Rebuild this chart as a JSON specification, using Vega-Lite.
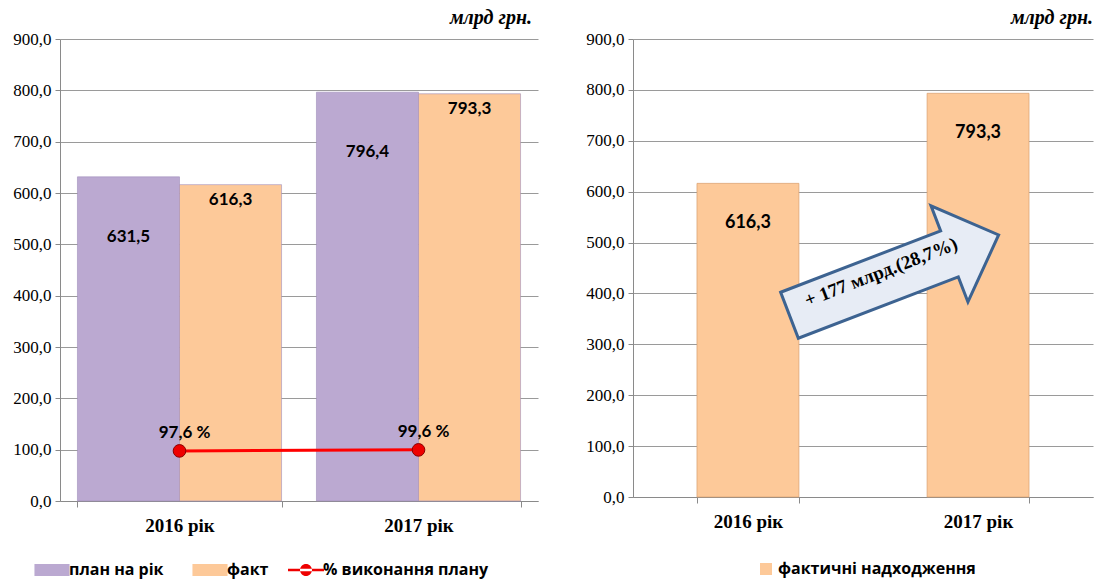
{
  "$schema": "https://vega.github.io/schema/vega-lite/v6.json",
  "background": "white",
  "padding": {"left": 12, "top": 8, "right": 2, "bottom": 2},
  "spacing": 47,
  "config": {
    "font": "Liberation Serif",
    "locale": {"number": {"decimal": ",", "thousands": " ", "grouping": [3], "currency": ["", " грн"]}},
    "view": {"stroke": null}
  },
  "datasets": {
    "bars": [
      {"year": "2016 рік", "series": "план на рік", "value": 631.5},
      {"year": "2016 рік", "series": "факт", "value": 616.3},
      {"year": "2017 рік", "series": "план на рік", "value": 796.4},
      {"year": "2017 рік", "series": "факт", "value": 793.3}
    ],
    "pct": [
      {"year": "2016 рік", "series": "% виконання плану", "pct": 97.6, "label": "97,6 %"},
      {"year": "2017 рік", "series": "% виконання плану", "pct": 99.6, "label": "99,6 %"}
    ],
    "fact": [
      {"year": "2016 рік", "series": "фактичні надходження", "value": 616.3},
      {"year": "2017 рік", "series": "фактичні надходження", "value": 793.3}
    ],
    "note": [
      {"year": "2017 рік", "value": 436, "label": "+ 177 млрд.(28,7%)"}
    ]
  },
  "hconcat": [
    {
      "width": 478,
      "height": 462,
      "title": {"text": "млрд грн.", "font": "Liberation Serif", "fontSize": 20, "fontWeight": "bold", "fontStyle": "italic", "anchor": "end", "color": "#000", "offset": 2, "dx": -6},
      "encoding": {
        "x": {"field": "year", "type": "nominal", "scale": {"domain": ["2016 рік", "2017 рік"], "paddingInner": 0.146, "paddingOuter": 0.073},
          "axis": {"title": null, "labelFont": "Liberation Serif", "labelFontSize": 19, "labelFontWeight": "bold", "labelColor": "#000", "tickColor": "#8a8a8a", "domainColor": "#8a8a8a", "tickBand": "extent", "tickSize": 6, "labelPadding": 9, "labelAngle": 0, "grid": false}},
        "y": {"type": "quantitative", "scale": {"domain": [0, 900]},
          "axis": {"title": null, "labelFont": "Liberation Serif", "labelFontSize": 17, "labelColor": "#000", "tickColor": "#8a8a8a", "domainColor": "#8a8a8a", "gridColor": "#9a9a9a", "tickSize": 5, "labelPadding": 4, "values": [0, 100, 200, 300, 400, 500, 600, 700, 800, 900], "format": ".1f"}}
      },
      "layer": [
        {
          "data": {"name": "bars"},
          "mark": {"type": "bar", "strokeWidth": 1, "stroke": "#a08ebb", "strokeOpacity": 0.6},
          "encoding": {
            "xOffset": {"field": "series", "type": "nominal", "sort": ["план на рік", "факт"]},
            "y": {"field": "value", "type": "quantitative"},
            "color": {
              "field": "series", "type": "nominal",
              "scale": {"domain": ["план на рік", "факт"], "range": ["#BBA9D1", "#FDC999"]},
              "legend": {"title": null, "orient": "none", "direction": "horizontal", "legendX": -23, "legendY": 516, "symbolType": "M-1.17,-0.4H1.17V0.4H-1.17Z", "symbolSize": 900, "symbolStrokeWidth": 0, "columnPadding": 28, "labelOffset": 2, "labelFont": "Open Sans", "labelFontSize": 16, "labelFontWeight": "bold", "labelColor": "#000", "labelLimit": 300}
            }
          }
        },
        {
          "data": {"name": "bars"},
          "transform": [{"filter": "datum.series === 'план на рік'"}],
          "mark": {"type": "text", "font": "Lato", "fontSize": 17, "fontWeight": "bold", "color": "#000", "dy": 60, "baseline": "middle"},
          "encoding": {
            "xOffset": {"field": "series", "type": "nominal", "sort": ["план на рік", "факт"], "scale": {"domain": ["план на рік", "факт"]}},
            "y": {"field": "value", "type": "quantitative"},
            "text": {"field": "value", "type": "quantitative", "format": ".1f"}
          }
        },
        {
          "data": {"name": "bars"},
          "transform": [{"filter": "datum.series === 'факт'"}],
          "mark": {"type": "text", "font": "Lato", "fontSize": 17, "fontWeight": "bold", "color": "#000", "dy": 15, "baseline": "middle"},
          "encoding": {
            "xOffset": {"field": "series", "type": "nominal", "sort": ["план на рік", "факт"], "scale": {"domain": ["план на рік", "факт"]}},
            "y": {"field": "value", "type": "quantitative"},
            "text": {"field": "value", "type": "quantitative", "format": ".1f"}
          }
        },
        {
          "data": {"name": "pct"},
          "mark": {"type": "line", "color": "#FF0000", "strokeWidth": 3},
          "encoding": {"y": {"field": "pct", "type": "quantitative"}}
        },
        {
          "data": {"name": "pct"},
          "mark": {"type": "point", "filled": true, "size": 160, "stroke": "#8a0000", "strokeWidth": 1, "opacity": 1},
          "encoding": {
            "y": {"field": "pct", "type": "quantitative"},
            "color": {
              "field": "series", "type": "nominal",
              "scale": {"domain": ["% виконання плану"], "range": ["#EE0000"]},
              "legend": {"title": null, "orient": "none", "direction": "horizontal", "legendX": 231, "legendY": 516, "symbolType": "M-1.2,-0.09H1.2V0.09H-1.2Z M-0.4,0A0.4,0.4 0 1,0 0.4,0A0.4,0.4 0 1,0 -0.4,0", "symbolSize": 900, "symbolStrokeWidth": 0, "symbolOpacity": 1, "labelOffset": 2, "labelFont": "Open Sans", "labelFontSize": 16, "labelFontWeight": "bold", "labelColor": "#000", "labelLimit": 300}
            }
          }
        },
        {
          "data": {"name": "pct"},
          "mark": {"type": "text", "font": "Lato", "fontSize": 17, "fontWeight": "bold", "color": "#000", "dy": -18, "dx": 5, "baseline": "middle"},
          "encoding": {"y": {"field": "pct", "type": "quantitative"}, "text": {"field": "label"}}
        }
      ],
      "resolve": {"scale": {"color": "independent"}, "legend": {"color": "independent"}}
    },
    {
      "width": 460,
      "height": 458,
      "title": {"text": "млрд грн.", "font": "Liberation Serif", "fontSize": 20, "fontWeight": "bold", "fontStyle": "italic", "anchor": "end", "color": "#000", "offset": 2},
      "encoding": {
        "x": {"field": "year", "type": "nominal", "scale": {"domain": ["2016 рік", "2017 рік"], "paddingInner": 0.557, "paddingOuter": 0.278},
          "axis": {"title": null, "labelFont": "Liberation Serif", "labelFontSize": 19, "labelFontWeight": "bold", "labelColor": "#000", "tickColor": "#8a8a8a", "domainColor": "#8a8a8a", "tickBand": "extent", "tickSize": 6, "labelPadding": 9, "labelAngle": 0, "grid": false}},
        "y": {"type": "quantitative", "scale": {"domain": [0, 900]},
          "axis": {"title": null, "labelFont": "Liberation Serif", "labelFontSize": 17, "labelColor": "#000", "tickColor": "#8a8a8a", "domainColor": "#8a8a8a", "gridColor": "#9a9a9a", "tickSize": 5, "labelPadding": 4, "values": [0, 100, 200, 300, 400, 500, 600, 700, 800, 900], "format": ".1f"}}
      },
      "layer": [
        {
          "data": {"name": "fact"},
          "mark": {"type": "bar", "strokeWidth": 1, "stroke": "#d9a070", "strokeOpacity": 0.7},
          "encoding": {
            "y": {"field": "value", "type": "quantitative"},
            "color": {
              "field": "series", "type": "nominal",
              "scale": {"domain": ["фактичні надходження"], "range": ["#FDC999"]},
              "legend": {"title": null, "orient": "none", "direction": "horizontal", "legendX": 125, "legendY": 522, "symbolType": "square", "symbolSize": 144, "symbolStrokeWidth": 0, "labelOffset": 4, "labelFont": "Open Sans", "labelFontSize": 16, "labelFontWeight": "bold", "labelColor": "#000", "labelLimit": 300}
            }
          }
        },
        {
          "data": {"name": "fact"},
          "mark": {"type": "text", "font": "Lato", "fontSize": 18, "fontWeight": "bold", "color": "#000", "dy": 40, "baseline": "middle"},
          "encoding": {
            "y": {"field": "value", "type": "quantitative"},
            "text": {"field": "value", "type": "quantitative", "format": ".1f"}
          }
        },
        {
          "data": {"name": "note"},
          "mark": {"type": "point", "shape": "M-1,-0.22L0.53,-0.22L0.53,-0.46L1,0L0.53,0.46L0.53,0.22L-1,0.22Z", "size": 50176, "angle": -21, "filled": true, "fill": "#E7ECF5", "stroke": "#3D6391", "strokeWidth": 3, "opacity": 1, "xOffset": -84},
          "encoding": {"y": {"field": "value", "type": "quantitative"}}
        },
        {
          "data": {"name": "note"},
          "mark": {"type": "text", "font": "Liberation Serif", "fontSize": 19, "fontWeight": "bold", "color": "#000", "angle": -21, "baseline": "middle", "align": "center", "xOffset": -97, "yOffset": -3},
          "encoding": {"y": {"field": "value", "type": "quantitative"}, "text": {"field": "label"}}
        }
      ]
    }
  ],
  "resolve": {"scale": {"color": "independent", "x": "independent", "y": "independent"}}
}
